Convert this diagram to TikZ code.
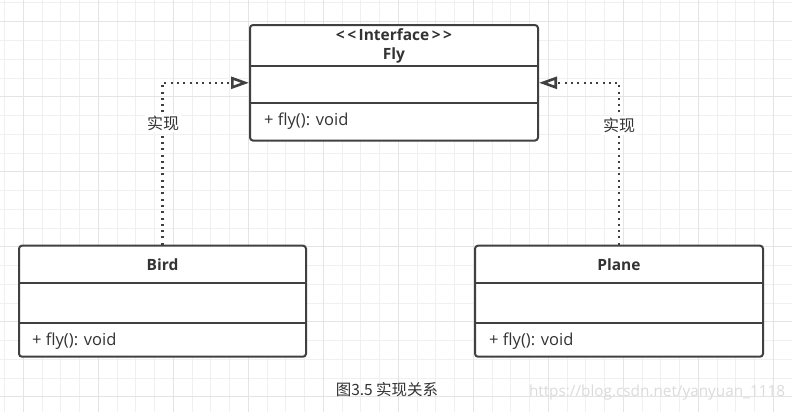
\documentclass[tikz,border=0pt]{standalone}
\usepackage{fontspec}
\setmainfont{Open Sans}
\newfontfamily\cjk{Noto Sans CJK SC}
\usetikzlibrary{arrows.meta}
\definecolor{boxline}{HTML}{404040}
\definecolor{txt}{HTML}{333333}
\definecolor{gridminor}{HTML}{F0F0F0}
\definecolor{gridmajor}{HTML}{E4E4E4}
\tikzset{
  classbox/.style={draw=boxline, line width=2pt, rounded corners=3pt, fill=none, inner sep=0pt},
  divider/.style={draw=boxline, line width=2pt},
  titletext/.style={font=\fontsize{15.5}{17}\selectfont\bfseries, text=txt, inner sep=0pt},
  membertext/.style={font=\fontsize{16.5}{18}\selectfont, text=txt, inner sep=0pt, anchor=west},
  realize/.style={draw=boxline, line width=2.2pt, dash pattern=on 2pt off 4.3pt, -{Triangle[open, length=18pt, width=12pt, line width=2.6pt, sep=0pt]}},
  reallabel/.style={font=\cjk\fontsize{16}{18}\selectfont, text=txt, fill=white, inner sep=2pt},
}
\begin{document}
\begin{tikzpicture}[x=1pt,y=-1pt]
\useasboundingbox (0,0) rectangle (792,412);
\fill[white] (0,0) rectangle (792,412);
% grid
\foreach \i in {0,...,42} {
  \pgfmathsetmacro\gx{4.55+\i*18.75}
  \draw[gridminor, line width=1pt] (\gx,0) -- (\gx,412);
}
\foreach \i in {0,...,22} {
  \pgfmathsetmacro\gy{3+\i*18.75}
  \draw[gridminor, line width=1pt] (0,\gy) -- (792,\gy);
}
\foreach \i in {0,...,10} {
  \pgfmathsetmacro\gx{23.3+\i*75}
  \draw[gridmajor, line width=1pt] (\gx,0) -- (\gx,412);
}
\foreach \i in {0,...,5} {
  \pgfmathsetmacro\gy{21.7+\i*75}
  \draw[gridmajor, line width=1pt] (0,\gy) -- (792,\gy);
}

% Fly interface
\node[classbox, fill=white, minimum width=288pt, minimum height=115.5pt] (fly) at (394,82.8) {};
\draw[divider] (250,65.7) -- (538,65.7);
\draw[divider] (250,103.3) -- (538,103.3);
\node[titletext] (flyst) at (394,35) {<\kern2.5pt<\kern2.5pt Interface\kern2.5pt>\kern2.5pt>};
\node[titletext] (flyname) at (394,55) {Fly};
\node[membertext] (flym) at (264,121.5) {+ fly(): void};

% Bird
\node[classbox, fill=white, minimum width=287pt, minimum height=111pt] (bird) at (162.5,301.2) {};
\draw[divider] (19,282.7) -- (306,282.7);
\draw[divider] (19,322.7) -- (306,322.7);
\node[titletext] (birdname) at (162.5,264.5) {Bird};
\node[membertext] (birdm) at (32,341) {+ fly(): void};

% Plane
\node[classbox, fill=white, minimum width=288pt, minimum height=111pt] (plane) at (619,301.2) {};
\draw[divider] (475,282.7) -- (763,282.7);
\draw[divider] (475,322.7) -- (763,322.7);
\node[titletext] (planename) at (619,264.5) {Plane};
\node[membertext] (planem) at (489,341) {+ fly(): void};

% realization connectors
\draw[realize] (bird.north) |- (fly.west);
\draw[realize] (plane.north) |- (fly.east);
\node[reallabel] (l1) at (163,123) {实现};
\node[reallabel] (l2) at (619,125.5) {实现};

% caption and watermark
\node[font=\cjk\fontsize{15.5}{17}\selectfont, text=txt, inner sep=0pt] (cap) at (387,390) {图3.5 实现关系};
\node[font=\fontsize{15.3}{17}\selectfont, text=black!14, inner sep=0pt] (wm) at (657,393) {https://blog.csdn.net/yanyuan\_1118};
\end{tikzpicture}
\end{document}
